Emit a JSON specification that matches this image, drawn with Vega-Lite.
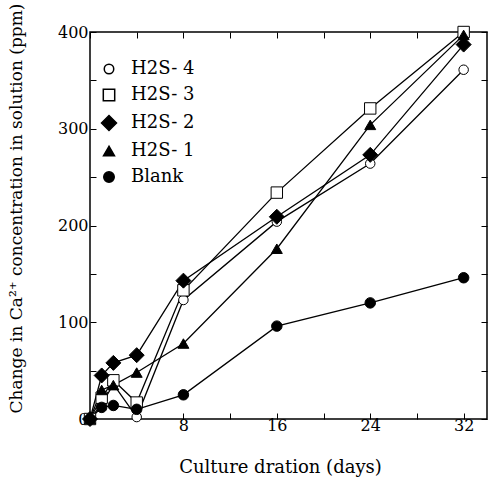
{
  "$schema": "https://vega.github.io/schema/vega-lite/v6.json",
  "width": 397,
  "height": 387,
  "autosize": "none",
  "padding": {"left": 90, "top": 32, "right": 6, "bottom": 62},
  "background": "white",
  "config": {
    "view": {"stroke": "black", "strokeWidth": 1.5},
    "font": "DejaVu Serif",
    "axis": {"grid": false, "domain": false, "tickColor": "black", "tickSize": -6, "tickWidth": 1, "labelFont": "DejaVu Serif", "labelFontSize": 16, "labelColor": "black", "titleFont": "DejaVu Serif", "titleFontSize": 18, "titleFontWeight": "normal", "titleColor": "black"},
    "legend": {"labelFont": "DejaVu Serif", "labelFontSize": 18, "labelColor": "black"}
  },
  "data": {"values": [
    {"series": "H2S- 4", "day": 0, "value": 0},
    {"series": "H2S- 4", "day": 1, "value": 15},
    {"series": "H2S- 4", "day": 2, "value": 36},
    {"series": "H2S- 4", "day": 4, "value": 2},
    {"series": "H2S- 4", "day": 8, "value": 123},
    {"series": "H2S- 4", "day": 16, "value": 204},
    {"series": "H2S- 4", "day": 24, "value": 264},
    {"series": "H2S- 4", "day": 32, "value": 361},
    {"series": "H2S- 3", "day": 0, "value": 0},
    {"series": "H2S- 3", "day": 1, "value": 22},
    {"series": "H2S- 3", "day": 2, "value": 40},
    {"series": "H2S- 3", "day": 4, "value": 17},
    {"series": "H2S- 3", "day": 8, "value": 133},
    {"series": "H2S- 3", "day": 16, "value": 234},
    {"series": "H2S- 3", "day": 24, "value": 321},
    {"series": "H2S- 3", "day": 32, "value": 400},
    {"series": "H2S- 2", "day": 0, "value": 0},
    {"series": "H2S- 2", "day": 1, "value": 45},
    {"series": "H2S- 2", "day": 2, "value": 58},
    {"series": "H2S- 2", "day": 4, "value": 66},
    {"series": "H2S- 2", "day": 8, "value": 143},
    {"series": "H2S- 2", "day": 16, "value": 209},
    {"series": "H2S- 2", "day": 24, "value": 273},
    {"series": "H2S- 2", "day": 32, "value": 387},
    {"series": "H2S- 1", "day": 0, "value": 0},
    {"series": "H2S- 1", "day": 1, "value": 30},
    {"series": "H2S- 1", "day": 2, "value": 35},
    {"series": "H2S- 1", "day": 4, "value": 48},
    {"series": "H2S- 1", "day": 8, "value": 78},
    {"series": "H2S- 1", "day": 16, "value": 176},
    {"series": "H2S- 1", "day": 24, "value": 304},
    {"series": "H2S- 1", "day": 32, "value": 397},
    {"series": "Blank", "day": 0, "value": 0},
    {"series": "Blank", "day": 1, "value": 12},
    {"series": "Blank", "day": 2, "value": 14},
    {"series": "Blank", "day": 4, "value": 10},
    {"series": "Blank", "day": 8, "value": 25},
    {"series": "Blank", "day": 16, "value": 96},
    {"series": "Blank", "day": 24, "value": 120},
    {"series": "Blank", "day": 32, "value": 146}
  ]},
  "layer": [
    {
      "mark": {"type": "line", "color": "black", "strokeWidth": 1.3},
      "encoding": {
        "x": {"field": "day", "type": "quantitative", "scale": {"domain": [0, 34], "nice": false},
              "axis": {"orient": "bottom", "values": [0, 4, 8, 12, 16, 20, 24, 28, 32], "labelExpr": "datum.value % 8 == 0 && datum.value > 0 ? datum.label : ''", "labelPadding": 4, "title": "Culture dration (days)", "titleX": 190, "titleY": 48, "titleBaseline": "middle"}},
        "y": {"field": "value", "type": "quantitative", "scale": {"domain": [0, 400], "nice": false},
              "axis": {"orient": "left", "values": [0, 50, 100, 150, 200, 250, 300, 350, 400], "labelExpr": "datum.value % 100 == 0 ? datum.label : ''", "labelPadding": 8, "title": "Change in Ca²⁺ concentration in solution (ppm)", "titleFontSize": 17, "titleX": -74, "titleY": 176, "titleAngle": -90, "titleBaseline": "middle", "titleAlign": "center"}},
        "detail": {"field": "series", "type": "nominal"},
        "order": {"field": "day", "type": "quantitative"}
      }
    },
    {
      "mark": {"type": "point", "filled": true, "stroke": "black", "strokeWidth": 1, "opacity": 1},
      "encoding": {
        "x": {"field": "day", "type": "quantitative",
              "axis": {"orient": "top", "values": [0, 4, 8, 12, 16, 20, 24, 28, 32], "labels": false, "title": null}},
        "y": {"field": "value", "type": "quantitative",
              "axis": {"orient": "right", "values": [0, 50, 100, 150, 200, 250, 300, 350, 400], "labels": false, "title": null}},
        "shape": {"field": "series", "type": "nominal",
                  "scale": {"domain": ["H2S- 4", "H2S- 3", "H2S- 2", "H2S- 1", "Blank"], "range": ["circle", "square", "diamond", "triangle-up", "circle"]},
                  "legend": {"title": null, "orient": "none", "legendX": 10, "legendY": 28, "padding": 0, "rowPadding": 8, "labelOffset": 13,
                             "encode": {"symbols": {"update": {"stroke": {"value": "black"}, "strokeWidth": {"value": 1}}}}}},
        "fill": {"field": "series", "type": "nominal",
                 "scale": {"domain": ["H2S- 4", "H2S- 3", "H2S- 2", "H2S- 1", "Blank"], "range": ["white", "white", "black", "black", "black"]},
                 "legend": {"title": null, "orient": "none", "legendX": 10, "legendY": 28, "padding": 0, "rowPadding": 8, "labelOffset": 13,
                             "encode": {"symbols": {"update": {"stroke": {"value": "black"}, "strokeWidth": {"value": 1}}}}}},
        "size": {"field": "series", "type": "nominal",
                 "scale": {"type": "ordinal", "domain": ["H2S- 4", "H2S- 3", "H2S- 2", "H2S- 1", "Blank"], "range": [90, 130, 225, 120, 110]},
                 "legend": {"title": null, "orient": "none", "legendX": 10, "legendY": 28, "padding": 0, "rowPadding": 8, "labelOffset": 13,
                             "encode": {"symbols": {"update": {"stroke": {"value": "black"}, "strokeWidth": {"value": 1}}}}}}
      }
    }
  ],
  "resolve": {"axis": {"x": "independent", "y": "independent"}}
}
